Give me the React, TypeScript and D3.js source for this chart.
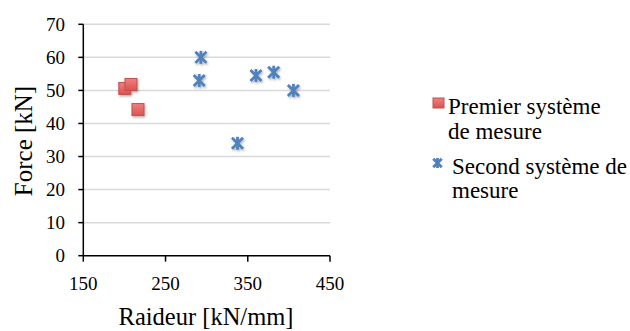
import React from "react";
import * as d3 from "d3";

const seriesNames = ["Premier système de mesure", "Second système de mesure"];
const premierX = [200.5, 208, 216.5];
const premierY = [50.6, 51.8, 44.2];
const secondX = [293, 291, 337.5, 360, 381.5, 405.5];
const secondY = [60, 53, 34, 54.5, 55.5, 50];
const xTicks = [150, 250, 350, 450];
const yTicks = [0, 10, 20, 30, 40, 50, 60, 70];

const W = 630, H = 331;
const left = 83.3, right = 330, top = 24.3, bottom = 255.7;
const FONT = '"Liberation Serif", "Times New Roman", Times, "DejaVu Serif", serif';

function Star({ cx, cy, r }: { cx: number; cy: number; r: number }) {
  const d = r * 0.85;
  return (
    <g stroke="#4f81bd" strokeWidth={2.8} strokeLinecap="butt">
      <line x1={cx - d} y1={cy - d} x2={cx + d} y2={cy + d} />
      <line x1={cx - d} y1={cy + d} x2={cx + d} y2={cy - d} />
      <line x1={cx} y1={cy - r} x2={cx} y2={cy + r} />
    </g>
  );
}

export default function App() {
  const x = d3.scaleLinear().domain([150, 450]).range([left, right]);
  const y = d3.scaleLinear().domain([0, 70]).range([bottom, top]);
  const premier = premierX.map((v, i) => ({ x: v, y: premierY[i] }));
  const second = secondX.map((v, i) => ({ x: v, y: secondY[i] }));
  const sq = 12;
  return (
    <svg width={W} height={H} style={{ position: "absolute", left: 0, top: 0, fontFamily: FONT }}>
      <defs>
        <linearGradient id="redg" x1="0" y1="0" x2="0" y2="1">
          <stop offset="0" stopColor="#f08080" />
          <stop offset="1" stopColor="#d9534f" />
        </linearGradient>
        <filter id="sh" x="-50%" y="-50%" width="200%" height="200%">
          <feDropShadow dx="1" dy="1.5" stdDeviation="1.2" floodColor="#000" floodOpacity="0.3" />
        </filter>
      </defs>
      <rect width={W} height={H} fill="#fff" />
      {yTicks.filter((t) => t > 0).map((t) => (
        <line key={t} x1={left} x2={right} y1={y(t)} y2={y(t)} stroke="#d9d9d9" strokeWidth={1.5} />
      ))}
      <line x1={left} x2={left} y1={top} y2={bottom} stroke="#000" strokeWidth={1.5} />
      <line x1={left} x2={right} y1={bottom} y2={bottom} stroke="#000" strokeWidth={1.5} />
      {yTicks.map((t) => (
        <g key={t}>
          <line x1={left - 5} x2={left} y1={y(t)} y2={y(t)} stroke="#000" strokeWidth={1.5} />
          <text x={65} y={y(t)} dy="0.35em" textAnchor="end" fontSize={19}>{t}</text>
        </g>
      ))}
      {xTicks.map((t) => (
        <g key={t}>
          <line x1={x(t)} x2={x(t)} y1={bottom} y2={bottom + 6} stroke="#000" strokeWidth={1.5} />
          <text x={x(t)} y={283} dy="0.35em" textAnchor="middle" fontSize={19}>{t}</text>
        </g>
      ))}
      <text x={206} y={325} textAnchor="middle" fontSize={24.5}>Raideur [kN/mm]</text>
      <text transform={`translate(23,141) rotate(-90)`} dy="0.35em" textAnchor="middle" fontSize={25}>Force [kN]</text>
      <g filter="url(#sh)">
        {premier.map((p, i) => (
          <rect key={i} x={x(p.x) - sq / 2} y={y(p.y) - sq / 2} width={sq} height={sq} fill="url(#redg)" stroke="#c0504d" strokeWidth={1} />
        ))}
        {second.map((p, i) => (
          <Star key={i} cx={x(p.x)} cy={y(p.y)} r={6.5} />
        ))}
      </g>
      <rect x={433} y={98} width={11} height={10} fill="url(#redg)" stroke="#c0504d" strokeWidth={1} />
      <text x={448} y={114} fontSize={23}>Premier système</text>
      <text x={448} y={139} fontSize={23}>de mesure</text>
      <Star cx={437.5} cy={163} r={5} />
      <text x={452} y={174} fontSize={23}>Second système de</text>
      <text x={452} y={198} fontSize={23}>mesure</text>
    </svg>
  );
}
